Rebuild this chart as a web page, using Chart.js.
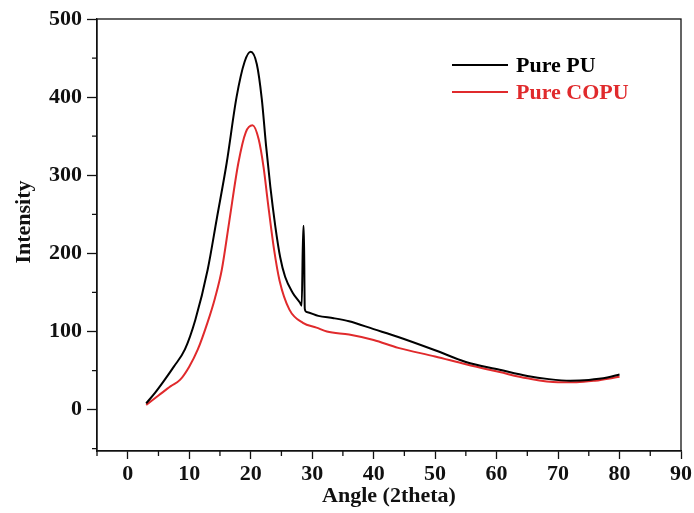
<!DOCTYPE html>
<html>
<head>
<meta charset="utf-8">
<script src="https://cdn.jsdelivr.net/npm/chart.js@4"></script>
<style>
html,body{margin:0;padding:0;background:#fff;}
#wrap{width:694px;height:513px;position:relative;}
</style>
</head>
<body>
<div id="wrap"><canvas id="c" width="694" height="513"></canvas></div>
<script>
// Series names and axis titles
const seriesNames = ["Pure PU", "Pure COPU"];
const xTitle = "Angle (2theta)";
const yTitle = "Intensity";
// Pure PU (black) angle / intensity
const puAngle =     [3, 4.5, 6, 7.5, 9.3, 11, 13, 14.5, 16.1, 17.7, 19, 20, 21, 21.8, 22.5, 23.2, 24, 24.8, 25.6, 26.8, 28, 28.3, 28.55, 28.65, 28.8, 29.1, 31, 33.5, 36, 40, 44, 50, 55, 60.5, 65, 68.5, 72, 75, 78, 80];
const puIntensity = [8, 22, 38, 55, 77, 115, 179, 245, 316, 400, 445, 458, 442, 398, 338, 285, 235, 195, 170, 150, 137, 133, 235, 235, 129, 125, 120, 117, 113, 103, 93, 76, 61, 51, 43, 39, 37, 38, 41, 45];
// Pure COPU (red) angle / intensity
const copuAngle =     [3, 5, 7, 8.5, 10, 11.4, 13, 14.2, 15.3, 16.5, 18, 19.2, 20.3, 21.3, 22.1, 22.8, 23.8, 24.7, 26.3, 28.5, 30.7, 32.4, 36, 40, 44, 50, 55, 60.5, 65, 70, 73, 76, 80];
const copuIntensity = [6, 18, 30, 38, 55, 77, 112, 143, 179, 240, 316, 355, 364, 346, 310, 265, 205, 165, 128, 111, 105, 100, 96, 89, 79, 68, 58, 48, 40, 35, 35, 37, 42];
// Tick labels
const xTicks = [0, 10, 20, 30, 40, 50, 60, 70, 80, 90];
const yTicks = [0, 100, 200, 300, 400, 500];
const xMinor = [-5, 5, 15, 25, 35, 45, 55, 65, 75, 85];
const yMinor = [-50, 50, 150, 250, 350, 450];

const toPts = (xs, ys) => xs.map((x, i) => ({x: x, y: ys[i]}));
const RED = '#e02a2c';
const INK = '#111';
const FONT = "'Liberation Serif', 'Times New Roman', serif";

const framePlugin = {
  id: 'frame',
  afterDraw(chart) {
    const {ctx, chartArea: a, scales} = chart;
    ctx.save();
    ctx.strokeStyle = INK;
    ctx.lineWidth = 1.3;
    ctx.strokeRect(a.left, a.top, a.right - a.left, a.bottom - a.top);
    // minor ticks
    ctx.beginPath();
    xMinor.forEach(v => {
      const px = scales.x.getPixelForValue(v);
      ctx.moveTo(px, a.bottom); ctx.lineTo(px, a.bottom + 5);
    });
    yMinor.forEach(v => {
      const py = scales.y.getPixelForValue(v);
      ctx.moveTo(a.left, py); ctx.lineTo(a.left - 5, py);
    });
    ctx.stroke();
    // y axis title
    ctx.fillStyle = INK;
    ctx.font = "bold 22px " + FONT;
    ctx.textAlign = 'center';
    ctx.textBaseline = 'middle';
    ctx.translate(24, 222);
    ctx.rotate(-Math.PI / 2);
    ctx.fillText(yTitle, 0, 0);
    ctx.setTransform(1, 0, 0, 1, 0, 0);
    // legend
    const items = [
      {label: seriesNames[0], color: '#000', y: 65},
      {label: seriesNames[1], color: RED, y: 92}
    ];
    ctx.textAlign = 'left';
    items.forEach(it => {
      ctx.strokeStyle = it.color;
      ctx.lineWidth = 2;
      ctx.beginPath(); ctx.moveTo(452, it.y); ctx.lineTo(508, it.y); ctx.stroke();
      ctx.fillStyle = it.color;
      ctx.fillText(it.label, 516, it.y + 1);
    });
    ctx.restore();
  }
};

new Chart(document.getElementById('c'), {
  type: 'scatter',
  data: {
    datasets: [
      {label: seriesNames[0], data: toPts(puAngle, puIntensity), borderColor: '#000', showLine: true, pointRadius: 0, borderWidth: 2, cubicInterpolationMode: 'monotone'},
      {label: seriesNames[1], data: toPts(copuAngle, copuIntensity), borderColor: RED, showLine: true, pointRadius: 0, borderWidth: 2, cubicInterpolationMode: 'monotone'}
    ]
  },
  options: {
    responsive: false,
    animation: false,
    events: [],
    layout: {padding: {left: 0, right: 12, top: 19, bottom: 0}},
    plugins: {legend: {display: false}, tooltip: {enabled: false}},
    scales: {
      x: {
        type: 'linear', min: -5, max: 90,
        afterBuildTicks: s => { s.ticks = xTicks.map(v => ({value: v})); },
        afterFit: s => { s.height = 62; },
        grid: {drawOnChartArea: false, drawTicks: true, tickLength: 8, color: INK, tickWidth: 1.3},
        border: {display: true, color: INK, width: 1.3},
        ticks: {color: INK, font: {family: FONT, size: 22, weight: 'bold'}, padding: 2, maxRotation: 0},
        title: {display: true, text: xTitle, color: INK, font: {family: FONT, size: 22, weight: 'bold'}, padding: {top: 0, bottom: 3}}
      },
      y: {
        type: 'linear', min: -53, max: 500,
        afterBuildTicks: s => { s.ticks = yTicks.map(v => ({value: v})); },
        afterFit: s => { s.width = 97; },
        grid: {drawOnChartArea: false, drawTicks: true, tickLength: 10, color: INK, tickWidth: 1.3},
        border: {display: true, color: INK, width: 1.3},
        ticks: {color: INK, font: {family: FONT, size: 22, weight: 'bold'}, padding: 5},
        title: {display: false}
      }
    }
  },
  plugins: [framePlugin]
});
</script>
</body>
</html>
